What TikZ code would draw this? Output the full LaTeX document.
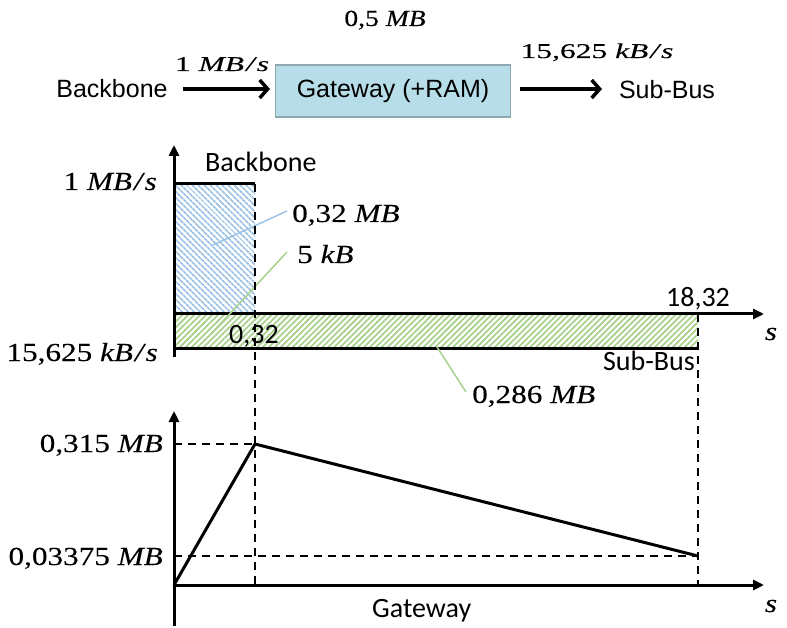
\documentclass[tikz,border=0pt]{standalone}
\usepackage{fontspec}
\newfontfamily\arialfont{Liberation Sans}
\newfontfamily\calibrifont{Carlito}
\newfontfamily\cambriafont[FakeStretch=1.2,FakeBold=0.15]{Liberation Serif}
\newfontfamily\ratefont[FakeStretch=1.5,FakeBold=0.15]{Liberation Serif}
\usetikzlibrary{arrows.meta,patterns.meta}
\definecolor{bbblue}{HTML}{9DC3E6}
\definecolor{sbgreen}{HTML}{A9D18E}
\definecolor{gwfill}{HTML}{B7DEE8}
\definecolor{gwline}{HTML}{8FA8B0}
\newcommand{\perunit}[1]{\textit{#1\kern2pt/\kern2pt s}}
\tikzset{
	toptext/.style={font=\arialfont\fontsize{25}{28}\selectfont, inner sep=2pt},
	toprate/.style={font=\ratefont\fontsize{21}{24}\selectfont, inner sep=0pt, anchor=base},
	topmem/.style={font=\cambriafont\fontsize{23}{26}\selectfont, inner sep=0pt, anchor=base},
	gwbox/.style={rectangle, draw=gwline, line width=1.5pt, fill=gwfill,
		minimum width=235pt, minimum height=52pt,
		font=\arialfont\fontsize{25}{28}\selectfont},
	flow/.style={line width=3.5pt, -{Straight Barb[length=8pt,width=18pt,line width=3.5pt]}},
	axis/.style={line width=3pt, -{Triangle[length=11pt,width=10pt]}},
	graphlab/.style={font=\calibrifont\fontsize{28}{32}\selectfont, inner sep=0pt},
	mathlab/.style={font=\cambriafont\fontsize{26}{30}\selectfont, inner sep=0pt},
	helpline/.style={line width=1.5pt, dash pattern=on 8pt off 6pt},
	bbhatch/.style={pattern={Lines[angle=-45,distance=4pt,line width=1.8pt]}, pattern color=bbblue},
	sbhatch/.style={pattern={Lines[angle=45,distance=4.2pt,line width=1.8pt]}, pattern color=sbgreen},
	leader/.style={line width=1.5pt}
}

\begin{document}
\begin{tikzpicture}[x=1pt, y=-1pt]
	\useasboundingbox (0,0) rectangle (787,628);
	
	% Datenfluss oben
	\node[toptext] (bbin) at (112,89) {Backbone};
	\node[gwbox] (gw) at (393,91) {Gateway (+RAM)};
	\node[toptext] (subout) at (667,90) {Sub-Bus};
	\coordinate (inA) at (183,89);
	\coordinate (inB) at (270,89);
	\coordinate (outA) at (520,89);
	\coordinate (outB) at (602,89);
	\draw[flow] (inA) -- (inB);
	\draw[flow] (outA) -- (outB);
	\node[topmem] (ram) at (385,26) {0,5 \textit{MB}};
	\node[toprate] (rin) at (222,71) {1 \perunit{MB}};
	\node[toprate] (rout) at (597,58) {15,625 \perunit{kB}};
	
	% Diagramm Datenraten
	\coordinate (o1) at (174,314);
	\coordinate (bbtop) at (174,184);
	\coordinate (bbend) at (255,184);
	\coordinate (sbend) at (698,348);
	\fill[bbhatch] (bbtop) rectangle (255,314);
	\fill[sbhatch] (o1) rectangle (sbend);
	\draw[line width=3pt] (bbtop) -- (bbend);
	\draw[line width=3pt] (174,348) -- (sbend);
	\draw[axis] (174,357) -- (174,145);
	\draw[axis] (o1) -- (764,314);
	\node[mathlab, anchor=base east] (rbb) at (157,190) {1 \perunit{MB}};
	\node[mathlab, anchor=base east] (rsb) at (158,361) {15,625 \perunit{kB}};
	\node[graphlab, anchor=base west] (lbb) at (205,172) {Backbone};
	\node[graphlab, anchor=base east] (lsb) at (695,370) {Sub-Bus};
	\node[graphlab, anchor=base west] (t1) at (229,343) {0,32};
	\node[graphlab, anchor=base] (t2) at (698,307) {18,32};
	\node[mathlab, anchor=base] (s1) at (771,340) {\textit{s}};
	
	% Datenmengen
	\node[mathlab, anchor=base west] (abb) at (292,222) {0,32 \textit{MB}};
	\node[mathlab, anchor=base west] (aex) at (297,263) {5 \textit{kB}};
	\node[mathlab, anchor=base west] (asb) at (472,403) {0,286 \textit{MB}};
	\coordinate (bbarea) at (213,245);
	\coordinate (bbtag) at (287,211);
	\coordinate (exarea) at (212,333);
	\coordinate (extag) at (287,252);
	\coordinate (sbarea) at (437,347);
	\coordinate (sbtag) at (466,392);
	\draw[leader, bbblue] (bbtag) -- (bbarea);
	\draw[leader, sbgreen] (extag) -- (exarea);
	\draw[leader, sbgreen] (sbtag) -- (sbarea);
	
	% Diagramm Speicherfuellstand
	\coordinate (o2) at (174,585);
	\coordinate (peak) at (255,444);
	\coordinate (rest) at (698,556);
	\draw[helpline] (bbend) -- (255,585);
	\draw[helpline] (698,314) -- (698,585);
	\draw[helpline] (174,444) -- (peak);
	\draw[helpline] (174,556) -- (rest);
	\draw[axis] (174,626) -- (174,411);
	\draw[axis] (o2) -- (764,585);
	\draw[line width=3pt, line join=round] (o2) -- (peak) -- (rest);
	\node[mathlab, anchor=base east] (mpeak) at (163,452) {0,315 \textit{MB}};
	\node[mathlab, anchor=base east] (mrest) at (163,565) {0,03375 \textit{MB}};
	\node[graphlab, anchor=base west] (lgw) at (372,617) {Gateway};
	\node[mathlab, anchor=base] (s2) at (771,612) {\textit{s}};
\end{tikzpicture}
\end{document}
